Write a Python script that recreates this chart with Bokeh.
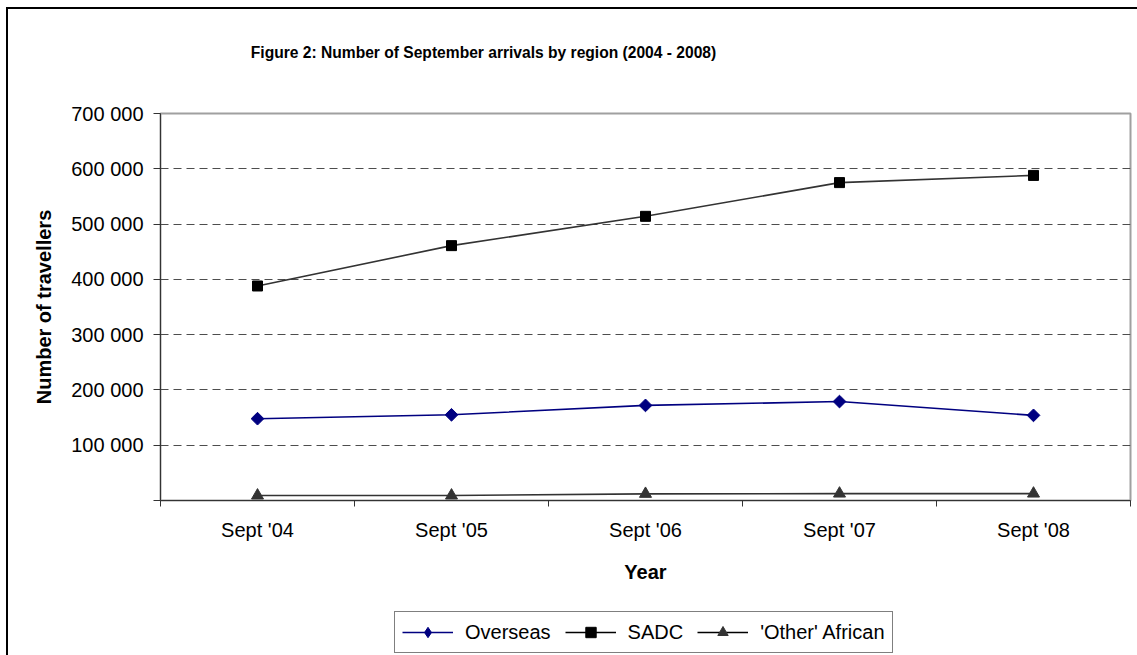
import numpy as np
from bokeh.plotting import figure
from bokeh.layouts import column
from bokeh.models import FixedTicker, Legend, LegendItem, Range1d, Label
from bokeh.embed import file_html
from bokeh.resources import INLINE

categories = ["Sept '04", "Sept '05", "Sept '06", "Sept '07", "Sept '08"]
overseas = [148000, 155000, 172000, 179000, 154000]
sadc = [388000, 461000, 514000, 575000, 588000]
other_african = [9000, 9000, 12000, 12500, 12500]
y_ticks = [0, 100000, 200000, 300000, 400000, 500000, 600000, 700000]
y_tick_labels = ["", "100 000", "200 000", "300 000", "400 000", "500 000", "600 000", "700 000"]
series_names = ["Overseas", "SADC", "'Other' African"]
title_text = "Figure 2: Number of September arrivals by region (2004 - 2008)"

FONT = "Liberation Sans"
W = 1129

x = [i + 0.5 for i in range(len(categories))]
bounds = list(range(len(categories) + 1))

# ---------- title strip ----------
tf = figure(width=W, height=80, output_backend="svg", toolbar_location=None,
            x_axis_type=None, y_axis_type=None, min_border=0,
            x_range=Range1d(0, 1), y_range=Range1d(0, 1))
tf.outline_line_color = None
tf.grid.visible = False
tf.add_layout(Label(x=323, y=37, x_units="screen", y_units="screen", text=title_text,
                    text_align="center", text_baseline="middle", text_font=FONT,
                    text_font_size="15.6px", text_font_style="bold", text_color="black"))

# ---------- chart ----------
p = figure(width=W, height=503, output_backend="svg", toolbar_location=None,
           x_range=Range1d(0, len(categories)), y_range=Range1d(0, y_ticks[-1]),
           min_border_left=152, min_border_right=7, min_border_top=24, min_border_bottom=92,
           background_fill_color="white", border_fill_color="white")
p.outline_line_color = "#a0a0a0"
p.outline_line_width = 2

xa = p.xaxis[0]
xa.ticker = FixedTicker(ticks=x, minor_ticks=bounds)
xa.major_label_overrides = {xi: c for xi, c in zip(x, categories)}
xa.major_tick_out = 0
xa.major_tick_in = 0
xa.minor_tick_out = 6
xa.minor_tick_in = 0
xa.minor_tick_line_color = "#333333"
xa.axis_line_color = "#333333"
xa.major_label_standoff = 12
xa.major_label_text_font = FONT
xa.major_label_text_font_size = "20px"
xa.major_label_text_color = "black"
xa.axis_label = "Year"
xa.axis_label_text_font = FONT
xa.axis_label_text_font_size = "20px"
xa.axis_label_text_font_style = "bold"
xa.axis_label_text_color = "black"
xa.axis_label_standoff = 17

ya = p.yaxis[0]
ya.ticker = FixedTicker(ticks=y_ticks)
ya.major_label_overrides = {t: l for t, l in zip(y_ticks, y_tick_labels)}
ya.major_tick_out = 7
ya.major_tick_in = 0
ya.minor_tick_out = 0
ya.minor_tick_in = 0
ya.major_tick_line_color = "#333333"
ya.axis_line_color = "#333333"
ya.major_label_standoff = 10
ya.major_label_text_font = FONT
ya.major_label_text_font_size = "20px"
ya.major_label_text_color = "black"
ya.axis_label = "Number of travellers"
ya.axis_label_text_font = FONT
ya.axis_label_text_font_size = "20px"
ya.axis_label_text_font_style = "bold"
ya.axis_label_text_color = "black"
ya.axis_label_standoff = 13

p.xgrid.visible = False
p.ygrid.ticker = FixedTicker(ticks=y_ticks[1:-1])
p.ygrid.grid_line_color = "#4d4d4d"
p.ygrid.grid_line_dash = "8 5"
p.ygrid.grid_line_width = 1

NAVY = "#000080"
DARK = "#333333"
p.line(x, overseas, line_color=NAVY, line_width=1.6)
p.scatter(x, overseas, marker="square", angle=np.pi / 4, size=9, fill_color=NAVY, line_color=NAVY)
p.line(x, sadc, line_color=DARK, line_width=1.6)
p.scatter(x, sadc, marker="square", size=10, fill_color="black", line_color="black")
p.line(x, other_african, line_color=DARK, line_width=1.6)
p.scatter(x, other_african, marker="triangle", size=12, fill_color=DARK, line_color=DARK)

# ---------- legend strip ----------
lf = figure(width=W, height=63, output_backend="svg", toolbar_location=None,
            x_axis_type=None, y_axis_type=None, min_border=0,
            x_range=Range1d(0, 1), y_range=Range1d(0, 1))
lf.outline_line_color = None
lf.grid.visible = False
nan = [np.nan]
l1 = lf.line(nan, nan, line_color=NAVY, line_width=1.6)
k1 = lf.scatter(nan, nan, marker="diamond", size=14, fill_color=NAVY, line_color=NAVY)
l2 = lf.line(nan, nan, line_color="black", line_width=1.6)
k2 = lf.scatter(nan, nan, marker="square", size=10, fill_color="black", line_color="black")
l3 = lf.line(nan, nan, line_color="black", line_width=1.6)
k3 = lf.scatter(nan, nan, marker="triangle", size=12, fill_color=DARK, line_color=DARK)
legend = Legend(items=[LegendItem(label=series_names[0], renderers=[l1, k1]),
                       LegendItem(label=series_names[1], renderers=[l2, k2]),
                       LegendItem(label=series_names[2], renderers=[l3, k3])],
                orientation="horizontal", location=(234, 2),
                border_line_color="black", border_line_width=1,
                background_fill_color="white", background_fill_alpha=1,
                padding=7, spacing=14, margin=0, label_standoff=12,
                glyph_width=51, glyph_height=26, label_height=22,
                label_text_font=FONT, label_text_font_size="20px", label_text_color="black")
lf.add_layout(legend)

page = column(tf, p, lf, spacing=0)
page.styles = {"margin-left": "6px", "margin-top": "7px",
               "border-left": "2px solid black", "border-top": "2px solid black"}

open("out.html", "w").write(file_html(page, INLINE))
